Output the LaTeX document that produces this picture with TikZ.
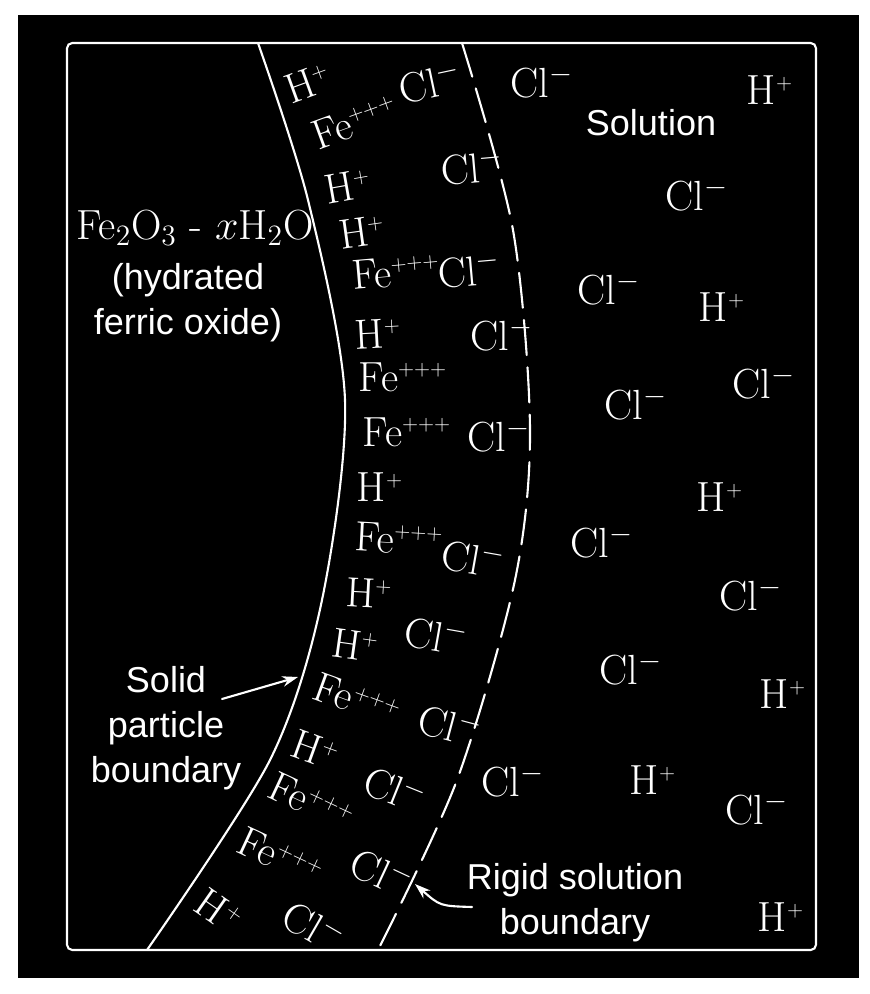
\documentclass[tikz,border=0pt]{standalone}
\usepackage{fix-cm}
\usepackage{fontspec}
\setsansfont{Liberation Sans}
\usetikzlibrary{arrows.meta}

\tikzset{
  ion/.style={text=white, inner sep=0pt, font=\fontsize{24}{28}\selectfont},
  tag/.style={text=white, inner sep=0pt, align=center, font=\sffamily\fontsize{20.5}{25.5}\selectfont},
  wall/.style={white, line width=1.2pt},
}
\newcommand{\Hion}{H$^{\scriptscriptstyle +}$}
\newcommand{\Feion}{Fe$^{\scriptscriptstyle +++}$}
\newcommand{\Clion}{Cl$^{-}$}

\begin{document}
\begin{tikzpicture}[x=0.02cm, y=-0.02cm, >={Stealth[length=9pt,width=6pt]}, line cap=round]
  \useasboundingbox[fill=white] (0,0) rectangle (869,994);
  \fill[black] (18,15) rectangle (859,978);
  \draw[wall, rounded corners=3pt] (67,43) rectangle (816,950);

  % solid particle boundary and rigid solution boundary
  \draw[wall] plot[smooth] coordinates {(258,43) (308,200) (345,400) (322,600) (270,760) (147,950)};
  \draw[wall, dash pattern=on 20pt off 7pt] plot[smooth] coordinates {(462,43) (513,230) (530,430) (515,580) (457,780) (378,950)};

  % ions: x / y / tilt
  \foreach \x/\y/\r [count=\i] in {308/83/20, 348/186/10, 362/232/8, 378/334/3, 380/487/0, 369/593/-3,
      355/645/-8, 315/750/-20, 219/911/-35, 770/90/0, 722/307/0, 720/497/0, 783/694/0, 653/780/0, 781/917/0}
    \node[ion, rotate=\r] (h\i) at (\x,\y) {\Hion};
  \foreach \x/\y/\r [count=\i] in {355/122/20, 396/272/5, 403/377/0, 407/432/0, 399/539/-3, 357/700/-20,
      311/802/-25, 280/857/-25}
    \node[ion, rotate=\r] (fe\i) at (\x,\y) {\Feion};
  \foreach \x/\y/\r [count=\i] in {430/82/12, 472/167/5, 469/270/5, 502/335/0, 499/436/0, 473/558/-10,
      436/635/-10, 450/725/-15, 395/789/-22, 382/872/-25, 314/926/-30,
      542/82/0, 697/195/0, 609/289/0, 764/383/0, 636/404/0, 602/542/0, 751/595/0, 631/669/0,
      513/781/0, 757/809/0}
    \node[ion, rotate=\r] (cl\i) at (\x,\y) {\Clion};

  % labels
  \node[ion] (oxide) at (195,228) {Fe$_2$O$_3$ - $x$H$_2$O};
  \node[tag] (hydr) at (188,303) {(hydrated\\ferric oxide)};
  \node[tag] (soln) at (651,123) {Solution};
  \node[tag] (solid) at (166,728) {Solid\\particle\\boundary};
  \node[tag] (rigid) at (575,903) {Rigid solution\\boundary};

  % pointers
  \coordinate (sbtail) at (222,699);
  \coordinate (sbtip) at (298,677);
  \draw[wall, ->] (sbtail) -- (sbtip);
  \coordinate (rbtail) at (472,907);
  \coordinate (rbtip) at (415,884);
  \draw[wall, ->] (rbtail) .. controls (440,906) .. (rbtip);
\end{tikzpicture}
\end{document}
